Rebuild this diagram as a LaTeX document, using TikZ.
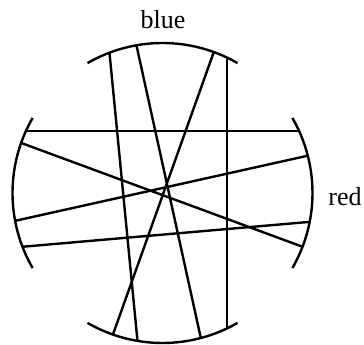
\documentclass[tikz,border=0pt]{standalone}
\usepackage{fontspec}
\setmainfont{Liberation Serif}
\begin{document}
\begin{tikzpicture}[x=1pt,y=1pt,
  rim/.style={line width=2.4pt},
  chord/.style={line width=2.4pt},
  lbl/.style={font=\fontsize{26}{30}\selectfont, inner sep=0pt}]
\useasboundingbox (0,0) rectangle (364,345);
\coordinate (c) at (162.5,152);
% arcs
\draw[rim] (c) ++(60:150) arc (60:120:150);
\draw[rim] (c) ++(150:150) arc (150:210:150);
\draw[rim] (c) ++(240:150) arc (240:300:150);
\draw[rim] (c) ++(-30:150) arc (-30:30:150);
% chord endpoints
\begin{scope}[shift={(c)}]
\coordinate (h1) at (155.5:150); \coordinate (h2) at (24.5:150);
\coordinate (a1) at (160.5:150); \coordinate (a2) at (-21:150);
\coordinate (b1) at (190.7:150); \coordinate (b2) at (14.4:150);
\coordinate (d1) at (201:150);   \coordinate (d2) at (-11.1:150);
\coordinate (v1) at (110.7:150); \coordinate (v1b) at (260.4:150);
\coordinate (v2) at (100:150);   \coordinate (v2b) at (284.8:150);
\coordinate (v3) at (70:150);    \coordinate (v3b) at (250.7:150);
\coordinate (v4) at (64.5:150);  \coordinate (v4b) at (295.5:150);
\end{scope}
\draw[chord] (h1) -- (h2);
\draw[chord] (a1) -- (a2);
\draw[chord] (b1) -- (b2);
\draw[chord] (d1) -- (d2);
\draw[chord] (v1) -- (v1b);
\draw[chord] (v2) -- (v2b);
\draw[chord] (v3) -- (v3b);
\draw[chord] (v4) -- (v4b);
\node[lbl] (blue) at (163,325) {blue};
\node[lbl] (red) at (345,148) {red};
\end{tikzpicture}
\end{document}
